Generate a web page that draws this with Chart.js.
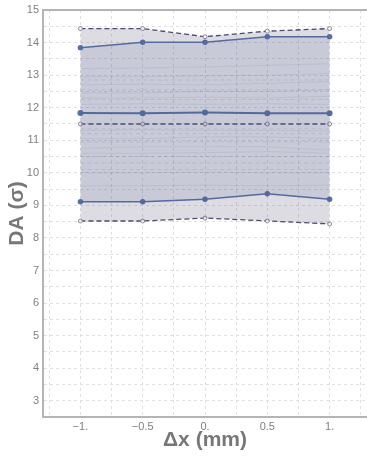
<!DOCTYPE html>
<html>
<head>
<meta charset="utf-8">
<script src="https://cdn.jsdelivr.net/npm/chart.js@4"></script>
<style>
  html, body { margin: 0; padding: 0; background: #fff; }
  #wrap { width: 367px; height: 457px; }
</style>
</head>
<body>
<div id="wrap"><canvas id="myChart" width="367" height="457"></canvas></div>
<script>
const shifts = [-1, -0.5, 0, 0.5, 1];
const maxDA = [14.43, 14.43, 14.18, 14.35, 14.43];
const upperDA = [13.84, 14.01, 14.01, 14.18, 14.18];
const meanDA = [11.84, 11.83, 11.85, 11.83, 11.83];
const medianDA = [11.5, 11.5, 11.5, 11.5, 11.5];
const lowerDA = [9.11, 9.11, 9.19, 9.36, 9.19];
const minDA = [8.52, 8.52, 8.61, 8.52, 8.43];
// faint individual seeds (estimated)
const seedSolid = [
    [13.2, 13.22, 13.25, 13.3, 13.35],
    [12.95, 12.95, 12.98, 13.0, 13.05],
    [12.7, 12.72, 12.7, 12.75, 12.8],
    [12.45, 12.45, 12.5, 12.5, 12.55],
    [12.3, 12.3, 12.32, 12.3, 12.35],
    [12.1, 12.12, 12.1, 12.12, 12.1],
    [11.3, 11.32, 11.3, 11.3, 11.28],
    [11.05, 11.05, 11.1, 11.1, 11.05],
    [10.75, 10.8, 10.8, 10.8, 10.7],
    [10.6, 10.6, 10.62, 10.65, 10.6],
    [10.0, 10.0, 10.02, 10.0, 10.0],
    [9.6, 9.6, 9.62, 9.6, 9.62]
];
const seedDashed = [
    [12.85, 12.85, 12.85, 12.85, 12.85],
    [12.55, 12.55, 12.55, 12.55, 12.55],
    [12.25, 12.25, 12.25, 12.25, 12.25],
    [11.35, 11.35, 11.35, 11.35, 11.35],
    [11.2, 11.2, 11.2, 11.2, 11.2],
    [10.95, 10.95, 10.95, 10.95, 10.95],
    [10.5, 10.5, 10.5, 10.5, 10.5],
    [10.3, 10.3, 10.3, 10.3, 10.3],
    [10.1, 10.1, 10.1, 10.1, 10.1]
];
const xTicks = [-1.25, -1, -0.75, -0.5, -0.25, 0, 0.25, 0.5, 0.75, 1, 1.25];
const xTickLabels = {'-1': '\u22121.', '-0.5': '\u22120.5', '0': '0.', '0.5': '0.5', '1': '1.'};

document.addEventListener('DOMContentLoaded', function () {
    const ctx = document.getElementById('myChart').getContext('2d');
    const pts = function (arr) {
        return arr.map(function (v, i) { return {x: shifts[i], y: v}; });
    };
    const font = {family: 'Liberation Sans, Arial, sans-serif', size: 11};
    const titleFont = {family: 'Liberation Sans, Arial, sans-serif', size: 21, weight: 'bold'};
    const gridColor = '#e0e0e0';
    const noPad = function (scale) {
        scale.paddingLeft = 0; scale.paddingRight = 0;
        scale.paddingTop = 0; scale.paddingBottom = 0;
    };

    const datasets = [
        {   // 0: max dashed, fill to min
            data: pts(maxDA), borderColor: '#4a4a6e', borderWidth: 1.3, borderDash: [5, 3],
            pointRadius: 2, pointBackgroundColor: '#f4f4f6', pointBorderColor: '#8a8a9a', pointBorderWidth: 1,
            fill: {target: 1}, backgroundColor: 'rgba(87,78,114,0.2)'
        },
        {   // 1: min dashed
            data: pts(minDA), borderColor: '#4a4a6e', borderWidth: 1.3, borderDash: [5, 3],
            pointRadius: 2, pointBackgroundColor: '#f4f4f6', pointBorderColor: '#8a8a9a', pointBorderWidth: 1,
            fill: false
        },
        {   // 2: upper solid, fill to lower
            data: pts(upperDA), borderColor: '#5572a8', borderWidth: 1.5,
            pointRadius: 2, pointBackgroundColor: '#5572a8', pointBorderColor: '#5572a8',
            fill: {target: 3}, backgroundColor: 'rgba(80,100,160,0.15)'
        },
        {   // 3: lower solid
            data: pts(lowerDA), borderColor: '#5572a8', borderWidth: 1.5,
            pointRadius: 2, pointBackgroundColor: '#5572a8', pointBorderColor: '#5572a8',
            fill: false
        }
    ];
    seedSolid.forEach(function (s) {
        datasets.push({data: pts(s), borderColor: 'rgba(100,120,180,0.16)', borderWidth: 0.8,
            pointRadius: 0, fill: false});
    });
    seedDashed.forEach(function (s) {
        datasets.push({data: pts(s), borderColor: 'rgba(130,130,160,0.22)', borderWidth: 1,
            borderDash: [4, 3], pointRadius: 0, fill: false});
    });
    datasets.push({
        data: pts(medianDA), borderColor: '#4a4a6e', borderWidth: 1.6, borderDash: [5, 3],
        pointRadius: 2, pointBackgroundColor: '#f4f4f6', pointBorderColor: '#8a8a9a', pointBorderWidth: 1,
        fill: false
    });
    datasets.push({
        data: pts(meanDA), borderColor: '#5572a8', borderWidth: 2,
        pointRadius: 2, pointBackgroundColor: '#5572a8', pointBorderColor: '#5572a8',
        fill: false
    });

    new Chart(ctx, {
        type: 'line',
        data: {datasets: datasets},
        options: {
            responsive: false,
            animation: false,
            layout: {padding: 0, autoPadding: false},
            scales: {
                x: {
                    type: 'linear',
                    min: -1.3,
                    max: 1.3,
                    afterBuildTicks: function (scale) {
                        scale.ticks = xTicks.map(function (v) { return {value: v}; });
                    },
                    afterFit: function (scale) { scale.height = 40; noPad(scale); },
                    border: {display: true, color: '#b4b4b4', width: 2, dash: [3, 3]},
                    grid: {color: gridColor, drawTicks: false},
                    ticks: {
                        color: '#808080', font: font, padding: 3, autoSkip: false, maxRotation: 0,
                        callback: function (val) {
                            return xTickLabels[String(val)] || '';
                        }
                    },
                    title: {display: true, text: '\u0394x (mm)', color: '#777', font: titleFont, padding: {top: 0, bottom: 4}}
                },
                xTop: {
                    type: 'linear',
                    position: 'top',
                    min: -1.3,
                    max: 1.3,
                    afterFit: function (scale) { scale.height = 10; noPad(scale); },
                    border: {display: true, color: '#b4b4b4', width: 2},
                    grid: {display: false},
                    ticks: {display: false}
                },
                y: {
                    min: 2.5,
                    max: 15,
                    afterBuildTicks: function (scale) {
                        const t = [];
                        for (let v = 2.5; v <= 15.001; v += 0.5) t.push({value: v});
                        scale.ticks = t;
                    },
                    afterFit: function (scale) { scale.width = 43; noPad(scale); },
                    border: {display: true, color: '#b4b4b4', width: 2, dash: [3, 3]},
                    grid: {color: gridColor, drawTicks: false},
                    ticks: {
                        color: '#808080', font: font, padding: 4,
                        callback: function (val) {
                            return (Number.isInteger(val) && val >= 3) ? String(val) : '';
                        }
                    },
                    title: {display: true, text: 'DA (\u03c3)', color: '#777', font: titleFont, padding: {top: 5, bottom: 0}}
                }
            },
            plugins: {
                legend: {display: false},
                title: {display: false},
                tooltip: {enabled: false}
            }
        }
    });
});
</script>
</body>
</html>
